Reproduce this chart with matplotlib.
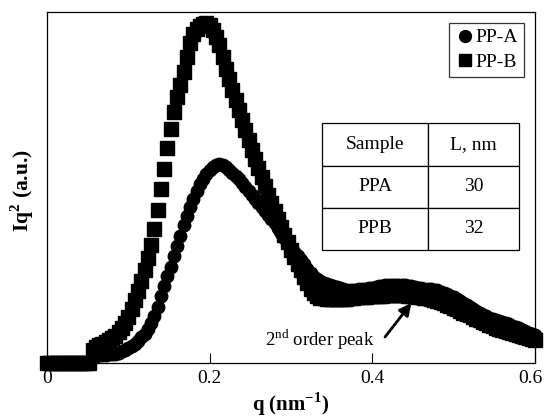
import numpy as np
import matplotlib
matplotlib.use("Agg")
from matplotlib import pyplot as plt
from matplotlib import transforms

plt.rcParams['font.family'] = ['Liberation Serif', 'DejaVu Serif']
plt.rcParams['mathtext.fontset'] = 'custom'
plt.rcParams['mathtext.rm'] = 'Liberation Serif'
plt.rcParams['mathtext.bf'] = 'Liberation Serif:bold'

# q grid of the measurement, 0 .. 0.6 nm^-1 in steps of 0.004
q = np.linspace(0.0, 0.6, 151)

# Iq^2 (arbitrary units)
ppA = [0, 0, 0, 0, 0, 0, 0, 0, 0, 0, 0, 0, 0, 0,
       5, 7, 8, 8.5, 8.5, 9, 9, 9.5, 10.5, 12, 13.5, 15, 17, 19.5, 22.5, 26,
       29.5, 34, 40, 47, 56, 67, 77, 87, 96, 107, 117, 127, 138, 147, 156,
       164, 172, 179, 184, 189, 193, 196, 198, 199, 198, 196, 193, 190, 187, 184,
       180, 176, 172, 168, 164, 160, 156, 152, 148, 144, 140, 135, 130, 125, 120,
       115, 111, 107, 103, 99, 94, 90, 86.5, 84, 82, 80.5, 79, 78, 77, 76,
       75, 74, 73.5, 73.5, 73.5, 73.5, 74, 74, 74.5, 75, 75, 76, 77, 77.5, 78,
       78.5, 78.5, 78.5, 78.5, 78, 78, 77.5, 77, 76, 75.5, 75, 74.5, 74, 74, 73.5,
       73, 71.5, 70, 69, 67.5, 66, 64, 62, 60, 58.5, 56.5, 54.5, 52.5, 50.5, 48.5,
       47, 45.5, 44.5, 43.5, 42.5, 41.5, 40.5, 39, 37.5, 36, 35, 33.5, 32, 30.5, 29,
       28]
ppB = [0, 0, 0, 0, 0, 0, 0, 0, 0, 0, 0, 0, 0, 0,
       13, 16, 18, 19.5, 21, 23, 25, 27.5, 31, 35, 40, 46, 54, 63, 72, 82,
       93, 105, 118, 134, 153, 174, 194, 215, 234, 251, 266, 278, 291, 306, 320,
       329, 334, 337, 339, 340, 338, 333, 326, 318, 306, 294, 284, 273, 263, 253,
       243, 233, 223, 213, 204, 195, 186, 177, 168, 160, 152, 144, 136, 128, 121,
       113, 106, 99, 93, 86, 80, 74, 70, 67, 65.5, 65, 64.5, 64.5, 64.5, 64.5,
       64.5, 64.5, 64.5, 65, 65.5, 66, 66, 66.5, 66.5, 67, 67, 67.5, 67.5, 67.5, 68,
       68, 68, 68, 68, 68, 68, 67.5, 67, 67, 66.5, 66, 65.5, 65, 64, 63.5,
       62.5, 61, 60, 58.5, 57, 55.5, 54, 52, 50.5, 49, 48, 46, 44.5, 43, 41,
       40, 38.5, 37, 35.5, 34.5, 33, 32, 31, 30, 29, 28, 27, 26, 25, 24,
       23]

table_rows = [["Sample", "L, nm"], ["PPA", "30"], ["PPB", "32"]]
xticks = [0, 0.2, 0.4, 0.6]
xticklabels = ["0", "0.2", "0.4", "0.6"]

fig = plt.figure(figsize=(5.45, 4.2), dpi=100)
ax = fig.add_axes([0.0862, 0.1357, 0.8955, 0.8357])

ax.plot(q, ppA, 'o', color='black', markersize=9.0, label='PP-A', clip_on=False)
ax.plot(q, ppB, 's', color='black', markersize=9.4, label='PP-B', clip_on=False)

ax.set_xlim(0, 0.6)
ax.set_ylim(0, 351)
ax.set_xticks(xticks)
ax.set_xticklabels(xticklabels, fontsize=14)
ax.set_yticks([])
ax.tick_params(axis='x', direction='in', length=7, width=0.8, pad=5)
for s in ax.spines.values():
    s.set_linewidth(0.9)

# last tick label sits a little left of its tick so it stays inside the figure
last = ax.get_xticklabels()[-1]
last.set_transform(last.get_transform() + transforms.ScaledTranslation(-0.045, 0, fig.dpi_scale_trans))

ax.set_xlabel(r'q (nm$^{\mathbf{-1}}$)', fontsize=15, fontweight='bold', va='center')
ax.xaxis.set_label_coords(0.5, -0.118)
ax.set_ylabel(r'Iq$^{\mathbf{2}}$ (a.u.)', fontsize=15.5, fontweight='bold', va='center')
ax.yaxis.set_label_coords(-0.05, 0.49)

leg = ax.legend(loc='upper right', bbox_to_anchor=(0.977, 0.969), fontsize=14,
                frameon=True, fancybox=False, edgecolor='black', handletextpad=0.05,
                handlelength=1.0, borderpad=0.3, labelspacing=0.35, borderaxespad=0,
                markerscale=0.95)
leg.get_frame().set_linewidth(0.9)

tab = ax.table(cellText=table_rows, cellLoc='center', colWidths=[0.54, 0.46],
               bbox=[0.5635, 0.322, 0.404, 0.361])
tab.auto_set_font_size(False)
for cell in tab.get_celld().values():
    cell.set_linewidth(0.9)
    cell.get_text().set_fontsize(14)

ax.text(0.403, 23, r'2$^{\mathrm{nd}}$ order peak', fontsize=13.5, ha='right', va='center')
ax.annotate('', xy=(0.448, 60), xytext=(0.4156, 26),
            arrowprops=dict(arrowstyle='-|>', color='black', lw=2.0,
                            mutation_scale=18, shrinkA=0, shrinkB=0))

fig.savefig('out.png', dpi=100)
